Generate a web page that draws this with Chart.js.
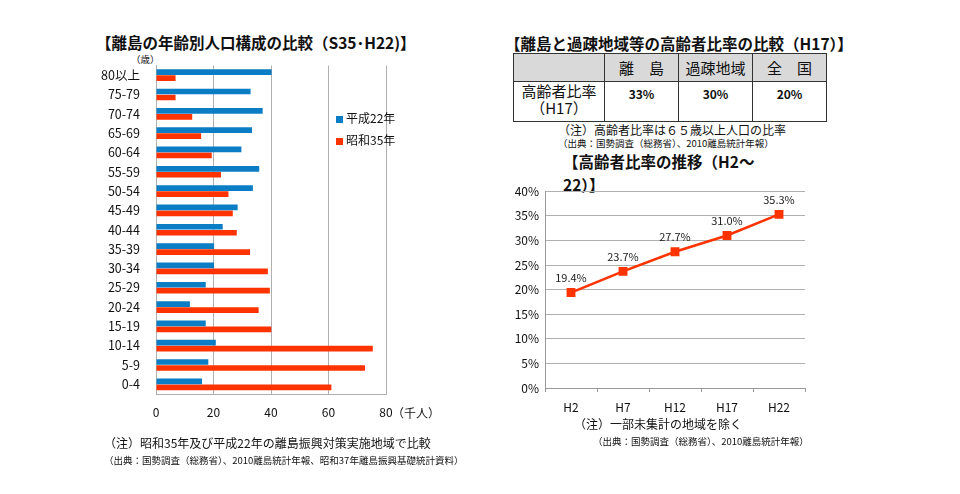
<!DOCTYPE html>
<html lang="ja">
<head>
    <meta charset="UTF-8">
    <title>離島の人口構成と高齢者比率</title>
    <script src="https://cdn.jsdelivr.net/npm/chart.js"></script>
    <style>
        body {
            margin: 0;
            width: 960px;
            height: 494px;
            background: #fff;
            font-family: "Noto Sans CJK JP", "Noto Sans", sans-serif;
            color: #111;
            position: relative;
            overflow: hidden;
        }
        .abs { position: absolute; white-space: nowrap; }
        .title { font-size: 15.5px; font-weight: bold; }
        .note { font-size: 12px; }
        .src { font-size: 9.5px; }
        table {
            position: absolute;
            left: 513px;
            top: 53px;
            border-collapse: collapse;
            font-size: 14px;
        }
        td {
            border: 1px solid #333;
            text-align: center;
            padding: 0;
        }
        tr.head td { background: #d9d9d9; height: 27px; font-size: 15px; }
        tr.row td { height: 36px; vertical-align: top; }
        .legend span.box { display: inline-block; width: 7px; height: 7px; margin-right: 3px; }
    </style>
</head>
<body>
    <div class="abs title" style="left:96px; top:31px;">【離島の年齢別人口構成の比較（S35･H22)】</div>
    <div class="abs src" style="left:131px; top:52px;">（歳）</div>
    <canvas id="ageChart" class="abs" style="left:100px; top:50px;"></canvas>
    <div class="abs note" style="left:392px; top:404px;">（千人）</div>
    <div class="abs legend note" style="left:336px; top:109px;"><span class="box" style="background:#0b7dc5"></span>平成22年</div>
    <div class="abs legend note" style="left:336px; top:131px;"><span class="box" style="background:#ff3300"></span>昭和35年</div>
    <div class="abs note" style="left:104px; top:434px;">（注）昭和35年及び平成22年の離島振興対策実施地域で比較</div>
    <div class="abs src" style="left:104px; top:453px;">（出典：国勢調査（総務省）、2010離島統計年報、昭和37年離島振興基礎統計資料）</div>

    <div class="abs title" style="left:505px; top:32px;">【離島と過疎地域等の高齢者比率の比較（H17）】</div>
    <table>
        <tr class="head">
            <td style="width:90px"></td>
            <td style="width:73px">離　島</td>
            <td style="width:73px">過疎地域</td>
            <td style="width:73px">全　国</td>
        </tr>
        <tr class="row">
            <td style="line-height:17px; font-size:15px;">高齢者比率<br>（H17）</td>
            <td style="font-size:12px; font-weight:bold; padding-top:3px;">33%</td>
            <td style="font-size:12px; font-weight:bold; padding-top:3px;">30%</td>
            <td style="font-size:12px; font-weight:bold; padding-top:3px;">20%</td>
        </tr>
    </table>
    <div class="abs note" style="left:558px; top:121px;">（注）高齢者比率は６５歳以上人口の比率</div>
    <div class="abs src" style="left:558px; top:136px;">（出典：国勢調査（総務省）、2010離島統計年報）</div>
    <div class="abs title" style="left:563px; top:150px; line-height:23px;">【高齢者比率の推移（H2～<br>22）】</div>
    <canvas id="trendChart" class="abs" style="left:500px; top:178px;"></canvas>
    <div class="abs note" style="left:574px; top:415px;">（注）一部未集計の地域を除く</div>
    <div class="abs src" style="left:593px; top:434px;">（出典：国勢調査（総務省）、2010離島統計年報）</div>

    <script>
        // age groups, top to bottom
        const ageGroups = ["80以上", "75-79", "70-74", "65-69", "60-64", "55-59", "50-54", "45-49", "40-44",
            "35-39", "30-34", "25-29", "20-24", "15-19", "10-14", "5-9", "0-4"];
        const popH22 = [40.2, 32.9, 37.1, 33.4, 29.7, 35.9, 33.7, 28.4, 23.2, 20.2, 20.2, 17.3, 11.8, 17.3, 20.8, 18.2, 16.0];
        const popS35 = [6.8, 6.8, 12.6, 15.7, 19.4, 22.6, 25.2, 26.7, 28.1, 32.7, 38.9, 39.6, 35.7, 40.1, 75.4, 72.7, 61.0];
        const xTicks = [0, 20, 40, 60, 80];

        const years = ["H2", "H7", "H12", "H17", "H22"];
        const elderlyRatio = [19.4, 23.7, 27.7, 31.0, 35.3];

        const fontFamily = '"Noto Sans CJK JP", "Noto Sans", sans-serif';
        Chart.defaults.font.family = fontFamily;
        Chart.defaults.color = '#111';

        function sizeCanvas(id, w, h) {
            const c = document.getElementById(id);
            c.width = w; c.height = h;
            c.style.width = w + 'px'; c.style.height = h + 'px';
            return c;
        }

        new Chart(sizeCanvas('ageChart', 340, 380), {
            type: 'bar',
            data: {
                labels: ageGroups,
                datasets: [
                    { label: '平成22年', data: popH22, backgroundColor: '#0b7dc5' },
                    { label: '昭和35年', data: popS35, backgroundColor: '#ff3300' }
                ]
            },
            options: {
                indexAxis: 'y',
                responsive: false,
                animation: false,
                layout: { padding: { top: 13, right: 54, left: 0, bottom: 0 } },
                datasets: { bar: { categoryPercentage: 0.62, barPercentage: 0.95 } },
                plugins: { legend: { display: false }, tooltip: { enabled: false } },
                scales: {
                    x: {
                        min: 0, max: 80,
                        afterBuildTicks: s => { s.ticks = xTicks.map(v => ({ value: v })); },
                        afterFit: s => { s.height = 36; },
                        grid: { color: '#b0b0b0', drawTicks: false, lineWidth: 1 },
                        border: { color: '#b0b0b0' },
                        ticks: { padding: 11, font: { size: 12 } }
                    },
                    y: {
                        afterFit: s => { s.width = 56; },
                        grid: { display: false },
                        border: { color: '#b0b0b0' },
                        ticks: { padding: 8, font: { size: 12.5 } }
                    }
                }
            }
        });

        // value labels above the line points
        const pointLabels = {
            id: 'pointLabels',
            afterDatasetsDraw(chart) {
                const ctx = chart.ctx;
                const meta = chart.getDatasetMeta(0);
                ctx.save();
                ctx.font = '11px ' + fontFamily;
                ctx.fillStyle = '#222';
                ctx.textAlign = 'center';
                ctx.textBaseline = 'bottom';
                meta.data.forEach((p, i) => {
                    ctx.fillText(elderlyRatio[i].toFixed(1) + '%', p.x, p.y - 9);
                });
                ctx.restore();
            }
        };

        new Chart(sizeCanvas('trendChart', 320, 245), {
            type: 'line',
            data: {
                labels: years,
                datasets: [{
                    data: elderlyRatio,
                    borderColor: '#ff3300',
                    backgroundColor: '#ff3300',
                    borderWidth: 2.5,
                    pointStyle: 'rect',
                    pointRadius: 4.5,
                    fill: false,
                    tension: 0
                }]
            },
            options: {
                responsive: false,
                animation: false,
                layout: { padding: { top: 10, right: 15, left: 0, bottom: 0 } },
                plugins: { legend: { display: false }, tooltip: { enabled: false } },
                scales: {
                    x: {
                        offset: true,
                        afterFit: s => { s.height = 35; },
                        grid: { offset: true, drawOnChartArea: false, tickLength: 4, color: '#999' },
                        border: { color: '#999' },
                        ticks: { padding: 8, font: { size: 12 } }
                    },
                    y: {
                        min: 0, max: 40,
                        afterFit: s => { s.width = 45; },
                        grid: { color: '#b0b0b0', drawTicks: false },
                        border: { color: '#999' },
                        ticks: { stepSize: 5, padding: 6, font: { size: 12 }, callback: v => v + '%' }
                    }
                }
            },
            plugins: [pointLabels]
        });
    </script>
</body>
</html>
